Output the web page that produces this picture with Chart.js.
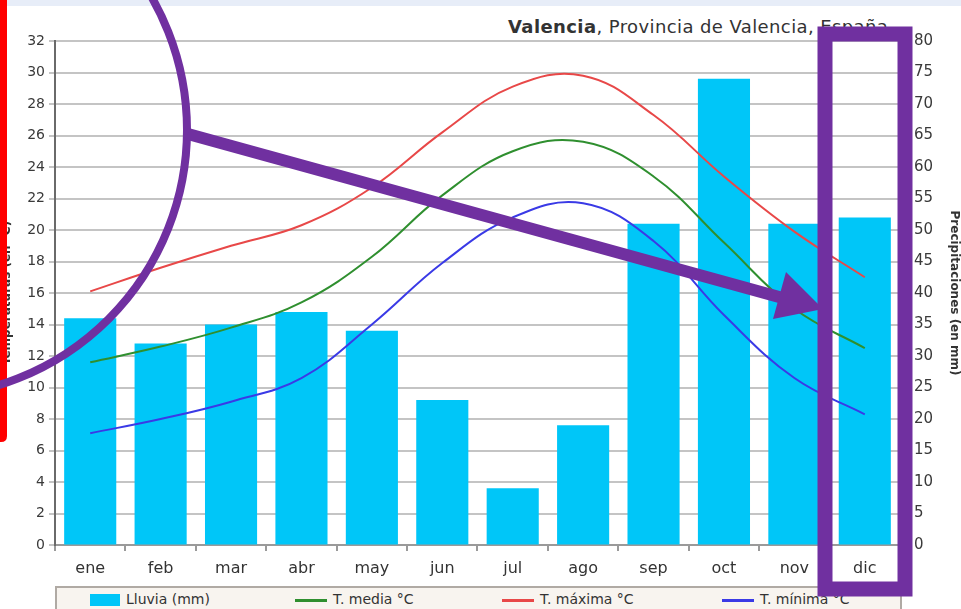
<!DOCTYPE html>
<html>
<head>
<meta charset="utf-8">
<script src="https://cdn.jsdelivr.net/npm/chart.js@4"></script>
<style>
html,body{margin:0;padding:0;background:#fff;}
body{width:961px;height:609px;position:relative;overflow:hidden;font-family:"DejaVu Sans",Verdana,sans-serif;}
#franja{position:absolute;left:0;top:0;width:961px;height:6px;background:#e7edf8;}
#titulo{position:absolute;left:508px;top:16px;font-size:18px;letter-spacing:0.4px;color:#333;white-space:nowrap;}
#leyenda{position:absolute;left:55px;top:586px;width:843px;height:30px;border:2px solid #b0aaa4;background:#f8f4ef;z-index:0;}
#leyenda span.item{position:absolute;top:3px;font-size:14px;color:#333;white-space:nowrap;}
#leyenda i{display:inline-block;vertical-align:middle;margin-right:6px;}
#caja{position:absolute;left:0;top:0;width:961px;height:609px;z-index:1;pointer-events:none;}
</style>
</head>
<body>
<div id="franja"></div>
<div id="titulo"><b>Valencia</b>, Provincia de Valencia, España</div>
<div id="leyenda"></div>
<div id="caja"><canvas id="clima" width="961" height="609"></canvas></div>
<script>

const meses = ["ene","feb","mar","abr","may","jun","jul","ago","sep","oct","nov","dic"];

const lluvia = [36,32,35,37,34,23,9,19,51,74,51,52];

const tMedia = [11.6,12.6,13.8,15.4,18.3,22.2,25.0,25.6,23.4,19.2,15.0,12.5];

const tMaxima = [16.1,17.6,19.0,20.3,22.7,26.2,29.1,29.8,27.3,23.4,19.9,17.0];

const tMinima = [7.1,8.0,9.1,10.6,14.0,17.9,20.8,21.7,19.3,14.6,10.6,8.3];

const ticksTemp = [0,2,4,6,8,10,12,14,16,18,20,22,24,26,28,30,32];
const ticksLluvia = [0,5,10,15,20,25,30,35,40,45,50,55,60,65,70,75,80];

// marcas moradas y barra roja encima del grafico
const anotaciones = {
id:"anotaciones",
afterDraw(chart){
const ctx = chart.ctx;
ctx.save();

ctx.fillStyle = "#ff0000";
ctx.beginPath();
ctx.moveTo(0,0);
ctx.lineTo(7,0);
ctx.lineTo(7,436);
ctx.quadraticCurveTo(7,442,1,442);
ctx.lineTo(0,442);
ctx.closePath();
ctx.fill();

ctx.strokeStyle = "#7030a0";
ctx.fillStyle = "#7030a0";

ctx.lineWidth = 8;
ctx.beginPath();
ctx.arc(-80,130,267,0,Math.PI*2);
ctx.stroke();

ctx.lineWidth = 12;
ctx.beginPath();
ctx.moveTo(188,134);
ctx.lineTo(790,300);
ctx.stroke();

ctx.beginPath();
ctx.moveTo(823,309);
ctx.lineTo(773,319);
ctx.lineTo(786,272);
ctx.closePath();
ctx.fill();

ctx.lineWidth = 15;
ctx.strokeRect(825,34,80,555);

ctx.restore();
}
};

const fuente = {family:"'DejaVu Sans', Verdana, sans-serif"};

const grafico = new Chart(
document.getElementById("clima"),
{
data:{
labels:meses,
datasets:[
{
type:"line",
label:"T. media °C",
data:tMedia,
yAxisID:"y",
borderColor:"#2f8f2f",
borderWidth:2,
pointRadius:0,
tension:0.4,
order:1
},
{
type:"line",
label:"T. máxima °C",
data:tMaxima,
yAxisID:"y",
borderColor:"#e84848",
borderWidth:2,
pointRadius:0,
tension:0.4,
order:1
},
{
type:"line",
label:"T. mínima °C",
data:tMinima,
yAxisID:"y",
borderColor:"#3a3ae6",
borderWidth:2,
pointRadius:0,
tension:0.4,
order:1
},
{
type:"bar",
label:"Lluvia (mm)",
data:lluvia,
yAxisID:"y1",
backgroundColor:"#00c6f8",
categoryPercentage:1,
barPercentage:0.74,
order:2
}
]
},
options:{
responsive:false,
animation:false,
events:[],
layout:{padding:{top:41,left:0,right:0,bottom:0}},
plugins:{
legend:{display:false},
tooltip:{enabled:false}
},
scales:{
x:{
offset:true,
grid:{
offset:true,
drawOnChartArea:false,
drawTicks:true,
tickLength:6,
color:"#9a9a9a",
lineWidth:2
},
border:{color:"#9a9a9a",width:2},
ticks:{
padding:8,
color:"#333",
font:{...fuente,size:16}
},
afterFit(scale){ scale.height = 64; }
},
y:{
position:"left",
min:0,
max:32,
afterBuildTicks(scale){
scale.ticks = ticksTemp.map(v=>({value:v}));
},
grid:{
color:"#c4c4c4",
lineWidth:2,
tickLength:6
},
border:{color:"#6a6a6a",width:2},
ticks:{
padding:4,
color:"#3a3a3a",
font:{...fuente,size:14}
},
title:{
display:true,
text:"Temperaturas (en °C)",
color:"#333",
font:{...fuente,size:12,weight:"bold"},
padding:0
},
afterFit(scale){ scale.width = 55; }
},
y1:{
position:"right",
min:0,
max:80,
afterBuildTicks(scale){
scale.ticks = ticksLluvia.map(v=>({value:v}));
},
grid:{drawOnChartArea:false,tickLength:4,color:"#bbb"},
border:{display:false},
ticks:{
padding:10,
color:"#3a3a3a",
font:{...fuente,size:15}
},
title:{
display:true,
text:"Precipitaciones (en mm)",
color:"#333",
font:{...fuente,size:12,weight:"bold"},
padding:{top:0,bottom:0}
},
afterFit(scale){ scale.width = 61; }
}
}
},
plugins:[anotaciones]
});

// leyenda html hecha con los datasets
const leyenda = document.getElementById("leyenda");
const posiciones = {"Lluvia (mm)":33,"T. media °C":238,"T. máxima °C":445,"T. mínima °C":665};

grafico.data.datasets
.slice()
.sort((a,b)=>(b.type==="bar")-(a.type==="bar"))
.forEach(ds=>{
const item = document.createElement("span");
item.className = "item";
item.style.left = posiciones[ds.label] + "px";
const muestra = document.createElement("i");
if(ds.type==="bar"){
muestra.style.width = "30px";
muestra.style.height = "12px";
muestra.style.background = ds.backgroundColor;
}else{
muestra.style.width = "32px";
muestra.style.height = "3px";
muestra.style.background = ds.borderColor;
}
item.appendChild(muestra);
item.appendChild(document.createTextNode(ds.label));
leyenda.appendChild(item);
});

</script>
</body>
</html>
